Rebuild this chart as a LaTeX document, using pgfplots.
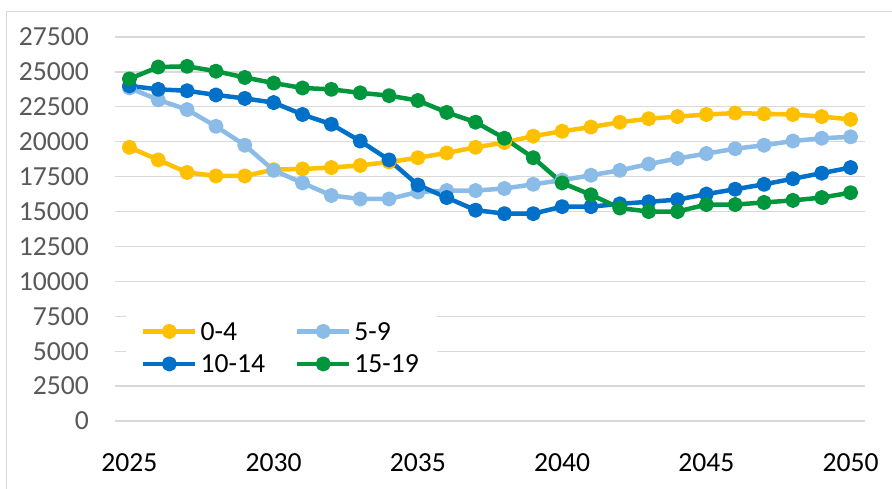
\documentclass[border=0pt]{standalone}
\usepackage{fontspec}
\setmainfont{Carlito}
\usepackage{pgfplots}
\pgfplotsset{compat=1.18}
\definecolor{cA}{HTML}{FFC000}
\definecolor{cB}{HTML}{8BBCE8}
\definecolor{cC}{HTML}{0070C8}
\definecolor{cD}{HTML}{00963C}
\definecolor{gridgray}{HTML}{D9D9D9}
\definecolor{labgray}{HTML}{595959}

\begin{document}
\fontsize{27.6}{33}\selectfont
\begin{tikzpicture}
\useasboundingbox (0pt,0pt) rectangle (892pt,488pt);
\draw[gridgray, line width=1pt] (6pt,-4pt) -- (6pt,476pt) -- (896pt,476pt);
\begin{axis}[
  at={(115pt,67pt)}, anchor=south west,
  scale only axis, width=750pt, height=384pt,
  xmin=2024.5, xmax=2050.5, ymin=0, ymax=27500,
  xtick={2025,2030,...,2050},
  ytick={0,2500,...,27500},
  scaled y ticks=false,
  /pgf/number format/set thousands separator={},
  /pgf/number format/assume math mode=true,
  axis line style={draw=none},
  major tick length=0pt,
  ymajorgrids,
  grid style={gridgray, line width=1.3pt},
  yticklabel style={anchor=east, inner sep=0pt, xshift=-26pt, text=labgray},
  xticklabel style={anchor=north, inner sep=0pt, yshift=-32pt, text=black},
  every axis plot/.append style={line width=4.5pt, line join=round, mark=*, mark size=5.3pt, mark options={solid}},
  legend columns=2,
  legend cell align=left,
  legend image code/.code={\draw[mark repeat=2,mark phase=2,#1] plot coordinates {(0pt,0pt) (26pt,0pt) (52pt,0pt)};},
  legend style={at={(0.222,0.191)}, anchor=center, fill=white, draw=none,
    inner xsep=15pt, inner ysep=6pt, column sep=0pt, row sep=9pt,
    nodes={inner sep=3pt, text height=17.5pt, text depth=0pt},
    /tikz/every even column/.append style={column sep=27pt}},
]
\addplot[cA] coordinates {
  (2025,19600) (2026,18700) (2027,17800) (2028,17550) (2029,17550)
  (2030,18000) (2031,18050) (2032,18150) (2033,18300) (2034,18550)
  (2035,18850) (2036,19200) (2037,19600) (2038,19950) (2039,20400)
  (2040,20750) (2041,21050) (2042,21400) (2043,21650) (2044,21800)
  (2045,21950) (2046,22050) (2047,22000) (2048,21950) (2049,21800)
  (2050,21600)
};
\addplot[cB] coordinates {
  (2025,23850) (2026,23000) (2027,22300) (2028,21100) (2029,19750)
  (2030,17950) (2031,17050) (2032,16150) (2033,15900) (2034,15900)
  (2035,16400) (2036,16500) (2037,16500) (2038,16650) (2039,16950)
  (2040,17250) (2041,17600) (2042,17950) (2043,18400) (2044,18800)
  (2045,19150) (2046,19500) (2047,19750) (2048,20050) (2049,20250)
  (2050,20350)
};
\addplot[cC] coordinates {
  (2025,24000) (2026,23750) (2027,23650) (2028,23350) (2029,23100)
  (2030,22800) (2031,21950) (2032,21250) (2033,20050) (2034,18700)
  (2035,16900) (2036,16000) (2037,15100) (2038,14850) (2039,14850)
  (2040,15350) (2041,15350) (2042,15550) (2043,15700) (2044,15850)
  (2045,16250) (2046,16600) (2047,16950) (2048,17350) (2049,17750)
  (2050,18150)
};
\addplot[cD] coordinates {
  (2025,24500) (2026,25350) (2027,25400) (2028,25050) (2029,24600)
  (2030,24200) (2031,23850) (2032,23750) (2033,23500) (2034,23300)
  (2035,22950) (2036,22100) (2037,21400) (2038,20250) (2039,18850)
  (2040,17050) (2041,16200) (2042,15250) (2043,15000) (2044,15000)
  (2045,15500) (2046,15500) (2047,15650) (2048,15800) (2049,16000)
  (2050,16350)
};
\legend{0-4,5-9,10-14,15-19}
\end{axis}
\end{tikzpicture}
\end{document}
